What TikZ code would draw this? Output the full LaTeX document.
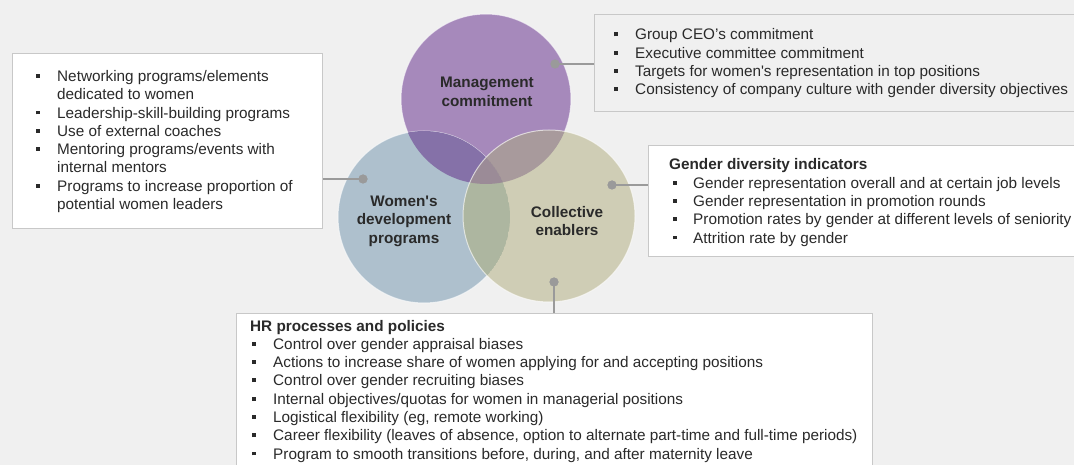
\documentclass[tikz,border=0pt]{standalone}
\usepackage{fontspec}
\setmainfont{Liberation Sans}[Ligatures=TeXOff]
\definecolor{bgc}{HTML}{F0F0F0}
\definecolor{boxline}{HTML}{C8C8C8}
\definecolor{txtc}{HTML}{2A2A2A}
\definecolor{connc}{HTML}{9A9A9A}
\definecolor{cM}{HTML}{A689BB}
\definecolor{cW}{HTML}{AEC0CD}
\definecolor{cC}{HTML}{CFCDB5}
\definecolor{cMW}{HTML}{8571A8}
\definecolor{cMC}{HTML}{A89A9C}
\definecolor{cWC}{HTML}{ADB6A0}
\definecolor{cMWC}{HTML}{9B8B97}
\newcommand\bu[1][0pt]{\makebox[21pt][l]{\hspace{#1}\raisebox{3.7pt}{\rule{3.8pt}{3.8pt}}}}
\begin{document}
\begin{tikzpicture}[x=1pt,y=-1pt,
  panel/.style={draw=boxline, line width=1.2pt, anchor=north west, inner sep=0pt},
  txt/.style={text=txtc, inner sep=0pt, anchor=base west,
    font=\fontsize{15.3}{18.3}\selectfont},
  lbl/.style={text=txtc, inner sep=0pt, align=center,
    font=\fontsize{15.3}{18.5}\selectfont\bfseries},
  conn/.style={draw=connc, line width=2pt},
  dotn/.style={circle, fill=connc, inner sep=0pt, minimum size=9pt},
  ring/.style={draw=white, draw opacity=0.6, line width=1pt}]
\useasboundingbox (0,0) rectangle (1074,465);
\clip (0,0) rectangle (1074,465);
\fill[bgc] (0,0) rectangle (1074,465);

% panels
\node[panel, fill=white, minimum width=310pt, minimum height=175pt] (lbox) at (12,53) {};
\node[panel, fill=bgc, minimum width=490pt, minimum height=97pt] (tbox) at (594,14) {};
\node[panel, fill=white, minimum width=440pt, minimum height=111pt] (rbox) at (648,145) {};
\node[panel, fill=white, minimum width=636pt, minimum height=170pt] (bbox) at (236,313) {};

% circles
\node[circle, minimum size=170pt, inner sep=0pt, fill=cM, ring] (M) at (486,99) {};
\node[circle, minimum size=172pt, inner sep=0pt, fill=cW, ring] (W) at (424,217) {};
\node[circle, minimum size=172pt, inner sep=0pt, fill=cC] (C) at (549,216) {};
\begin{scope}
  \clip (M.center) circle[radius=85pt];
  \fill[cMW] (W.center) circle[radius=86pt];
  \fill[cMC] (C.center) circle[radius=86pt];
  \clip (W.center) circle[radius=86pt];
  \fill[cMWC] (C.center) circle[radius=86pt];
\end{scope}
\begin{scope}
  \clip (W.center) circle[radius=86pt];
  \clip (C.center) circle[radius=86pt];
  \fill[cWC] (W.center) circle[radius=86pt];
  \clip (M.center) circle[radius=85pt];
  \fill[cMWC] (M.center) circle[radius=85pt];
\end{scope}
\draw[ring] (C.center) circle[radius=86pt];

% circle labels
\node[lbl] (Mlbl) at (487,92) {Management\\commitment};
\node[lbl] (Wlbl) at (404,221) {Women's\\development\\programs};
\node[lbl] (Clbl) at (567,221) {Collective\\enablers};

% dots and connectors
\node[dotn] (mdot) at (555,64) {};
\node[dotn] (wdot) at (363,179) {};
\node[dotn] (cdot) at (612,185) {};
\node[dotn] (bdot) at (554,282) {};
\draw[conn] (mdot.center) -- (tbox.west |- mdot.center);
\draw[conn] (wdot.center) -- (lbox.east |- wdot.center);
\draw[conn] (cdot.center) -- (rbox.west |- cdot.center);
\draw[conn] (bdot.center) -- (bbox.north -| bdot.center);
\node[dotn] at (mdot) {};
\node[dotn] at (wdot) {};
\node[dotn] at (cdot) {};
\node[dotn] at (bdot) {};

% texts
\node[txt] (ltxt) at (36,81.5) {\begin{tabular}[t]{@{}l@{}l@{}}
\bu & Networking programs/elements\\
 & dedicated to women\\
\bu & Leadership-skill-building programs\\
\bu & Use of external coaches\\
\bu & Mentoring programs/events with\\
 & internal mentors\\
\bu & Programs to increase proportion of\\
 & potential women leaders
\end{tabular}};

\node[txt] (ttxt) at (614,40) {\begin{tabular}[t]{@{}l@{}l@{}}
\bu & Group CEO’s commitment\\
\bu & Executive committee commitment\\
\bu & Targets for women's representation in top positions\\
\bu & Consistency of company culture with gender diversity objectives
\end{tabular}};

\node[txt] (rtxt) at (669,170) {\begin{tabular}[t]{@{}l@{}l@{}}
\multicolumn{2}{@{}l@{}}{\bfseries Gender diversity indicators}\\
\bu[4pt] & \hspace{3pt}Gender representation overall and at certain job levels\\
\bu[4pt] & \hspace{3pt}Gender representation in promotion rounds\\
\bu[4pt] & \hspace{3pt}Promotion rates by gender at different levels of seniority\\
\bu[4pt] & \hspace{3pt}Attrition rate by gender
\end{tabular}};

\node[txt] (btxt) at (250,331) {\begin{tabular}[t]{@{}l@{}l@{}}
\multicolumn{2}{@{}l@{}}{\bfseries HR processes and policies}\\
\bu[2pt] & \hspace{2pt}Control over gender appraisal biases\\
\bu[2pt] & \hspace{2pt}Actions to increase share of women applying for and accepting positions\\
\bu[2pt] & \hspace{2pt}Control over gender recruiting biases\\
\bu[2pt] & \hspace{2pt}Internal objectives/quotas for women in managerial positions\\
\bu[2pt] & \hspace{2pt}Logistical flexibility (eg, remote working)\\
\bu[2pt] & \hspace{2pt}Career flexibility (leaves of absence, option to alternate part-time and full-time periods)\\
\bu[2pt] & \hspace{2pt}Program to smooth transitions before, during, and after maternity leave
\end{tabular}};
\end{tikzpicture}
\end{document}
